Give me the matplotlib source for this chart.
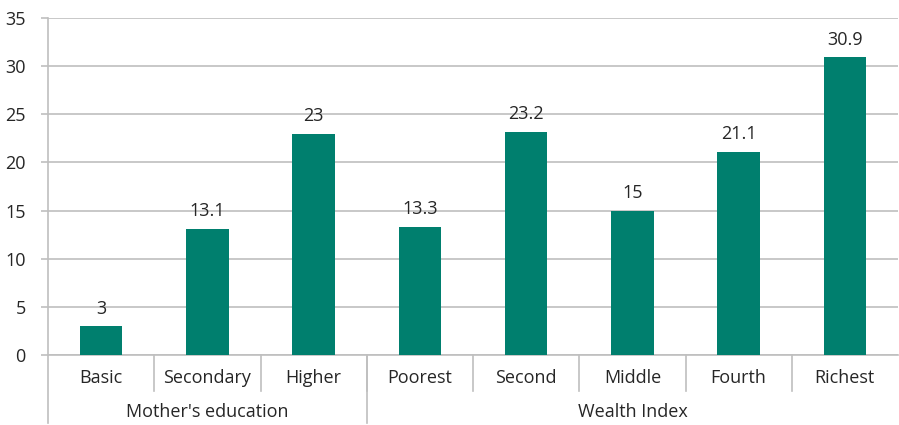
import matplotlib.pyplot as plt
from matplotlib.transforms import blended_transform_factory

# Data
categories = ["Basic", "Secondary", "Higher", "Poorest", "Second", "Middle", "Fourth", "Richest"]
values = [3, 13.1, 23, 13.3, 23.2, 15, 21.1, 30.9]
value_labels = ["3", "13.1", "23", "13.3", "23.2", "15", "21.1", "30.9"]
groups = ["Mother's education", "Wealth Index"]
group_sizes = [3, 5]

plt.rcParams["font.family"] = ["Open Sans", "DejaVu Sans"]
plt.rcParams["font.size"] = 13

bar_color = "#007F6E"
grid_color = "#BFBFBF"
text_color = "#262626"

fig = plt.figure(figsize=(8.99, 4.25), dpi=100)
ax = fig.add_axes([48 / 899, 1 - 355 / 425, 850 / 899, 337 / 425])

x = list(range(len(categories)))
ax.bar(x, values, width=0.4, color=bar_color, zorder=3)
for xi, v, lab in zip(x, values, value_labels):
    ax.annotate(lab, (xi, v), xytext=(0, 9), textcoords="offset points",
                ha="center", va="baseline", color=text_color)

ax.set_xlim(-0.5, len(categories) - 0.5)
ax.set_ylim(0, 35)
ax.set_yticks(range(0, 36, 5))
ax.yaxis.grid(True, color=grid_color, linewidth=1.2, zorder=0)
ax.tick_params(axis="y", length=5, color=grid_color, width=1.2, labelcolor=text_color, pad=11)
ax.set_xticks([])

for side in ["top", "right"]:
    ax.spines[side].set_visible(False)
ax.spines["left"].set_color(grid_color)
ax.spines["left"].set_linewidth(1.2)
ax.spines["bottom"].set_color(grid_color)
ax.spines["bottom"].set_linewidth(1.2)

trans = blended_transform_factory(ax.transData, ax.transAxes)
px = 1 / 337  # one pixel in axes-fraction units (vertical)

# category labels and short separators
for xi, cat in zip(x, categories):
    ax.text(xi, -23 * px, cat, transform=trans, ha="center", va="center", color=text_color)
for b in range(1, len(categories)):
    ax.plot([b - 0.5, b - 0.5], [0, -36 * px], transform=trans, color=grid_color,
            linewidth=1.2, clip_on=False)

# group labels and long separators
start = 0
bounds = [-0.5]
for g, n in zip(groups, group_sizes):
    mid = start + (n - 1) / 2
    ax.text(mid, -57 * px, g, transform=trans, ha="center", va="center", color=text_color)
    start += n
    bounds.append(start - 0.5)
for bx in bounds[:-1]:
    ax.plot([bx, bx], [0, -68 * px], transform=trans, color=grid_color,
            linewidth=1.2, clip_on=False)

fig.savefig("out.png", dpi=100, facecolor="white")
